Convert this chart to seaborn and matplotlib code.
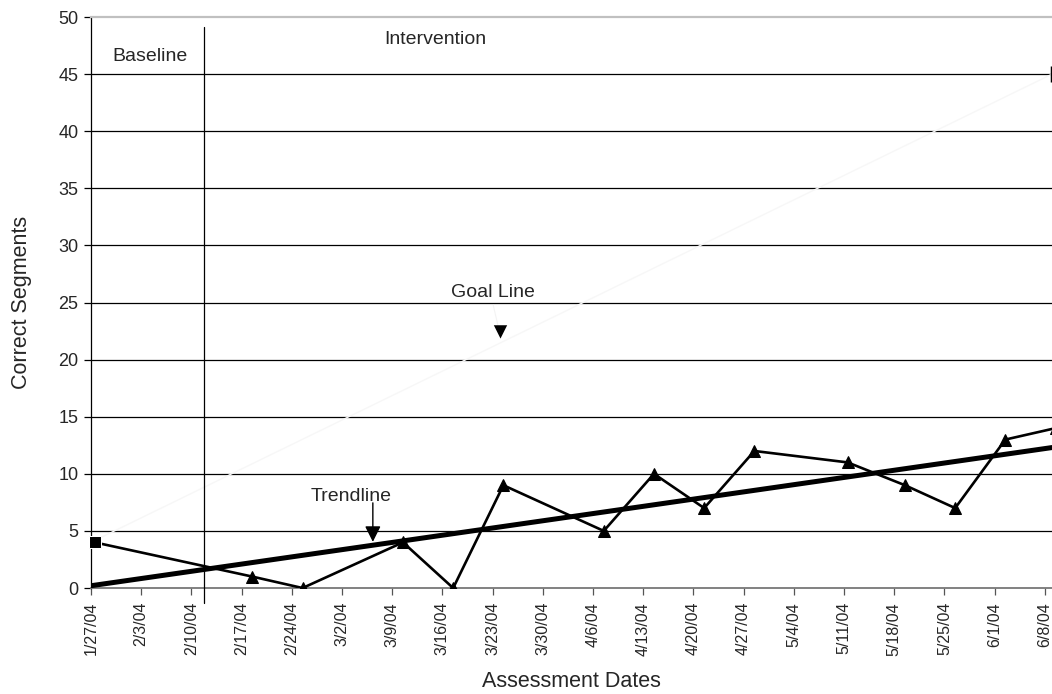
import numpy as np
import pandas as pd
import matplotlib
matplotlib.use("Agg")
import matplotlib.pyplot as plt
import matplotlib.dates as mdates
import seaborn as sns

# baseline probe (square marker)
baseline_dates = ["2004-01-27"]
baseline_values = [4]

# intervention probes (triangles)
intervention_dates = ["2004-02-18", "2004-02-25", "2004-03-10", "2004-03-17", "2004-03-24",
                      "2004-04-07", "2004-04-14", "2004-04-21", "2004-04-28", "2004-05-11",
                      "2004-05-19", "2004-05-26", "2004-06-02", "2004-06-09"]
intervention_values = [1, 0, 4, 0, 9, 5, 10, 7, 12, 11, 9, 7, 13, 14]

# trendline and goal line end points
trend_dates = ["2004-01-27", "2004-06-09"]
trend_values = [0.2, 12.3]
goal_dates = ["2004-01-27", "2004-06-09"]
goal_values = [4, 45]

phase_change = "2004-02-11 19:00"

tick_dates = pd.date_range("2004-01-27", "2004-06-08", freq="7D")
tick_labels = ["1/27/04", "2/3/04", "2/10/04", "2/17/04", "2/24/04", "3/2/04", "3/9/04",
               "3/16/04", "3/23/04", "3/30/04", "4/6/04", "4/13/04", "4/20/04", "4/27/04",
               "5/4/04", "5/11/04", "5/18/04", "5/25/04", "6/1/04", "6/8/04"]

sns.set_style("white")
plt.rcParams['font.family'] = ['Liberation Sans', 'DejaVu Sans']

# excel date axis puts each day in the middle of its slot
half_day = pd.Timedelta(hours=12)
base_df = pd.DataFrame({"date": pd.to_datetime(baseline_dates) + half_day, "value": baseline_values})
int_df = pd.DataFrame({"date": pd.to_datetime(intervention_dates) + half_day, "value": intervention_values})
trend_df = pd.DataFrame({"date": pd.to_datetime(trend_dates), "value": trend_values})
goal_df = pd.DataFrame({"date": pd.to_datetime(goal_dates), "value": goal_values})

fig = plt.figure(figsize=(10.52, 6.94), dpi=100)
ax = fig.add_axes([0.0865, 0.1527, 0.9135, 0.8228])

x0 = pd.Timestamp("2004-01-27")
x1 = pd.Timestamp("2004-06-09")
ax.set_xlim(x0, x1)
ax.set_ylim(0, 50)

for v in range(5, 50, 5):
    ax.axhline(v, color="black", lw=0.9, zorder=1)

# very faint goal line with end bar
sns.lineplot(data=goal_df, x="date", y="value", ax=ax, color="#f7f7f7", lw=1.0, zorder=2)
ax.plot([x1], [45], marker="|", color="black", markersize=11, mew=2.5, clip_on=False, zorder=5)

sns.lineplot(data=int_df, x="date", y="value", ax=ax, color="black", lw=1.9,
             marker="^", markersize=9, markeredgecolor="black", zorder=4)
sns.lineplot(x=[base_df.date[0], int_df.date[0]], y=[baseline_values[0], intervention_values[0]],
             ax=ax, color="black", lw=1.9, zorder=4)
sns.lineplot(data=base_df, x="date", y="value", ax=ax, color="black",
             marker="s", markersize=8.5, lw=0, zorder=5, clip_on=False)
sns.lineplot(data=trend_df, x="date", y="value", ax=ax, color="black", lw=3.6, zorder=3)

# phase change line
ax.plot([pd.Timestamp(phase_change)] * 2, [-1.3, 49.1], color="black", lw=0.9, clip_on=False, zorder=3)

day = pd.Timedelta(days=1)
ax.text(x0 + 8.2 * day, 46.5, "Baseline", ha="center", va="center", fontsize=14)
ax.text(x0 + 48 * day, 48.0, "Intervention", ha="center", va="center", fontsize=14)
ax.text(x0 + 56 * day, 25.9, "Goal Line", ha="center", va="center", fontsize=14)
ax.text(x0 + 36.3 * day, 8.0, "Trendline", ha="center", va="center", fontsize=14)

# goal arrow: faint shaft, black head
ax.annotate("", xy=(x0 + 57 * day, 22.3), xytext=(x0 + 56 * day, 25.0),
            arrowprops=dict(arrowstyle="-", color="#f3f3f3", lw=0.8))
ax.annotate("", xy=(x0 + 57.1 * day, 21.6), xytext=(x0 + 57.1 * day, 22.8),
            arrowprops=dict(arrowstyle="-|>", color="black", lw=0, mutation_scale=24))
# trendline arrow
ax.annotate("", xy=(x0 + 39.3 * day, 3.8), xytext=(x0 + 39.3 * day, 7.7),
            arrowprops=dict(arrowstyle="-|>", color="black", lw=1.0, mutation_scale=24))

ax.set_xticks(tick_dates)
ax.set_xticklabels(tick_labels, rotation=90, fontsize=11.5)
ax.set_yticks(range(0, 51, 5))
ax.tick_params(axis="y", labelsize=13, length=5, width=0.9, color="black", pad=4, direction="out", left=True)
ax.tick_params(axis="x", length=5, width=0.9, color="#555555", pad=5, direction="out", bottom=True)

ax.set_xlabel("Assessment Dates", fontsize=15.5, labelpad=11)
ax.set_ylabel("Correct Segments", fontsize=15.5, labelpad=19)

ax.spines["right"].set_visible(False)
ax.spines["top"].set_color("#c0c0c0")
ax.spines["top"].set_linewidth(1.6)
ax.spines["left"].set_color("black")
ax.spines["left"].set_linewidth(0.9)
ax.spines["bottom"].set_color("#777777")
ax.spines["bottom"].set_linewidth(1.3)

fig.savefig("out.png", dpi=100)
